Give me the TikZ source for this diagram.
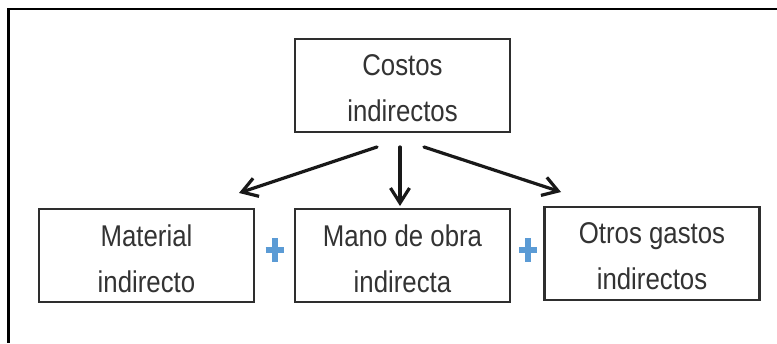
\documentclass[tikz,border=0pt]{standalone}
\usepackage{fontspec}
\setmainfont[FakeStretch=0.86]{Liberation Sans}
\usetikzlibrary{arrows.meta,calc}
\definecolor{txt}{HTML}{333333}
\definecolor{edge}{HTML}{2E2E2E}
\definecolor{plusblue}{HTML}{5B9BD5}
\tikzset{
  box/.style={draw=edge, line width=2.2pt, minimum width=215pt, minimum height=93pt,
    inner sep=0pt},
  lbl/.style={inner sep=0pt, align=center, text=txt,
    font=\fontsize{30}{46}\selectfont},
  conn/.style={draw=black!90, line width=3.2pt, line cap=round,
    -{Straight Barb[length=15pt,width=19pt,line width=3.2pt]}},
  plusbar/.style={draw=plusblue, line width=6pt},
  frame/.style={draw=black, line width=2.6pt}
}
\begin{document}
\begin{tikzpicture}[x=1pt,y=-1pt]
\useasboundingbox (0,0) rectangle (777,343);
\fill[white] (0,0) rectangle (777,343);
% frame
\coordinate (fa) at (8.5,9);
\coordinate (fb) at (777,9);
\coordinate (fc) at (8.5,343);
\draw[frame] (fb) -- (fa) -- (fc);
% boxes
\node[box] (top) at (402.5,85.5) {};
\node[box] (mat) at (146.5,255.5) {};
\node[box] (mano) at (402.5,255.5) {};
\node[box] (otros) at (652,253.5) {};
\node[lbl] (topT) at ($(top.center)+(0,3)$) {Costos\\indirectos};
\node[lbl] (matT) at ($(mat.center)+(0,3)$) {Material\\indirecto};
\node[lbl] (manoT) at ($(mano.center)+(0,3)$) {Mano de obra\\indirecta};
\node[lbl] (otrosT) at ($(otros.center)+(0,3)$) {Otros gastos\\indirectos};
% arrow ends
\coordinate (s1) at (377,147);
\coordinate (s2) at (400,147);
\coordinate (s3) at (424,147);
\coordinate (e1) at (239,193);
\coordinate (e2) at (400,206);
\coordinate (e3) at (561,192);
\draw[conn] (s1) -- (e1);
\draw[conn] (s2) -- (e2);
\draw[conn] (s3) -- (e3);
% plus signs
\coordinate (p1) at (274.5,250);
\coordinate (p2) at (528,250);
\foreach \p in {p1,p2}{
  \draw[plusbar] ($(\p)+(0,-12)$) -- ($(\p)+(0,12)$);
  \draw[plusbar] ($(\p)+(-9,0)$) -- ($(\p)+(9,0)$);
}
\end{tikzpicture}
\end{document}
